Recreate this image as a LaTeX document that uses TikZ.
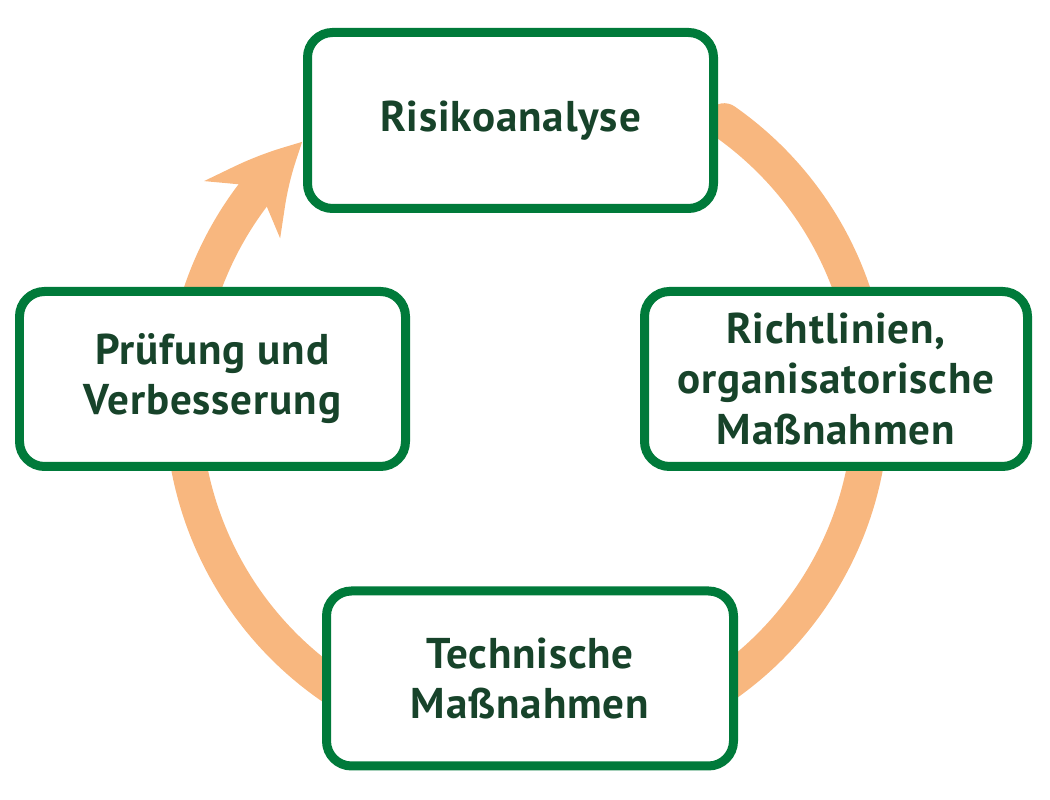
\documentclass[tikz,border=0pt]{standalone}
\usepackage{fontspec}
\setmainfont[LetterSpace=2]{PT Sans}
\usetikzlibrary{positioning,arrows.meta,bending}

\definecolor{boxgreen}{HTML}{007A3A}
\definecolor{textgreen}{HTML}{17432A}
\definecolor{cycleorange}{HTML}{F8B77F}

\begin{document}
\begin{tikzpicture}[
  stage/.style={draw=boxgreen, line width=0.18cm, fill=white, rounded corners=0.5cm,
    align=center, text=textgreen, font=\fontsize{24.5}{28.5}\selectfont\bfseries,
    inner sep=0pt},
  cycle arrow/.style={draw=cycleorange, line width=0.72cm, line cap=round,
    -{Stealth[length=1.8cm, width=1.85cm, inset=0.55cm, bend, line cap=butt]}}
]
\useasboundingbox (0,0) rectangle (21,16);
\coordinate (hub) at (10.54,7.94);
% orange cycle behind the boxes
\draw [cycle arrow] ([shift={(55:6.88)}]hub) arc[start angle=55, end angle=-229.3, radius=6.88];
% the four stages
\node [stage, minimum width=8.12cm, minimum height=3.52cm] (risk) at (10.21,13.59) {Risikoanalyse};
\node [stage, minimum width=7.66cm, minimum height=3.5cm] (policy) at (16.72,8.42) {Richtlinien,\\organisatorische\\Maßnahmen};
\node [stage, minimum width=8.14cm, minimum height=3.5cm] (tech) at (10.6,2.43) {Technische\\Maßnahmen};
\node [stage, minimum width=7.72cm, minimum height=3.5cm] (review) at (4.25,8.42) {Prüfung und\\Verbesserung};
\end{tikzpicture}
\end{document}
